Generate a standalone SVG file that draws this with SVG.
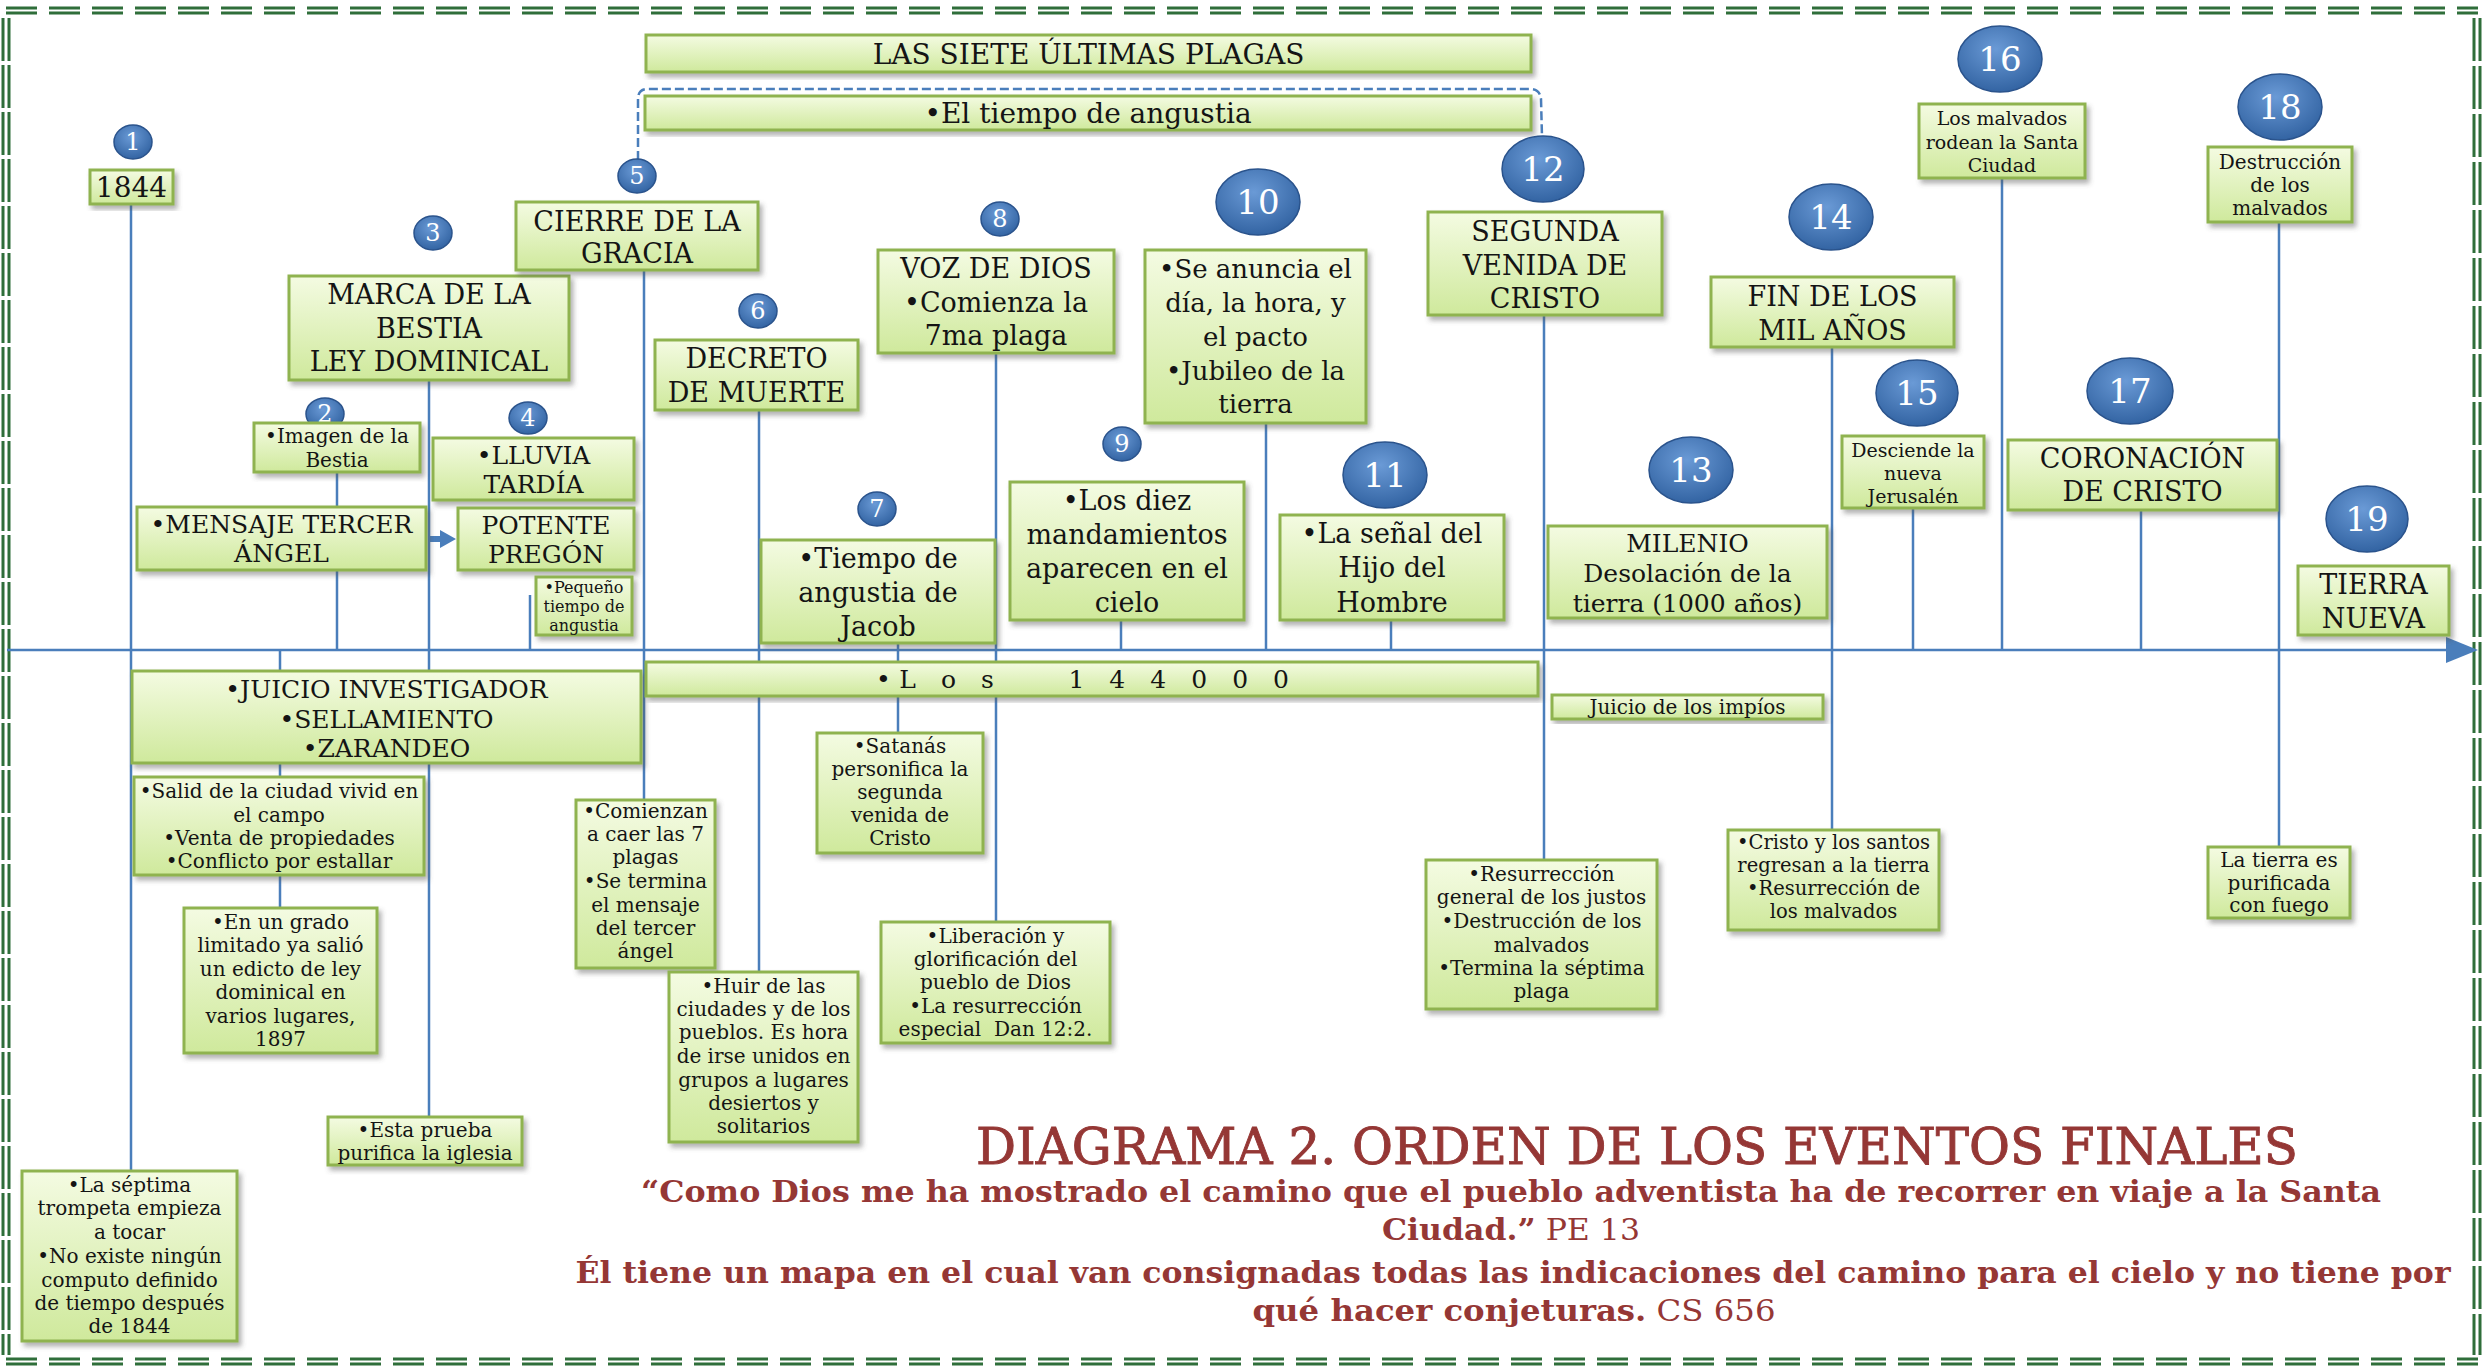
<svg xmlns="http://www.w3.org/2000/svg" width="2483" height="1369" viewBox="0 0 2483 1369">
<defs>
<linearGradient id="gbox" x1="0" y1="0" x2="0" y2="1">
<stop offset="0" stop-color="#f4fbe2"/>
<stop offset="1" stop-color="#cfe99c"/>
</linearGradient>
<radialGradient id="gc" cx="0.45" cy="0.35" r="0.7">
<stop offset="0" stop-color="#6a9ad6"/>
<stop offset="1" stop-color="#2f609f"/>
</radialGradient>
<filter id="sh" x="-10%" y="-10%" width="125%" height="130%">
<feDropShadow dx="3" dy="4" stdDeviation="2.5" flood-color="#555" flood-opacity="0.45"/>
</filter>
<marker id="arr" markerWidth="12" markerHeight="10" refX="1" refY="5" orient="auto" markerUnits="userSpaceOnUse" viewBox="0 0 12 10">
<path d="M0,0 L12,5 L0,10 Z" fill="#4a7ebb"/>
</marker>
<style>
.box{fill:url(#gbox);stroke:#8fb350;stroke-width:3;filter:url(#sh);}
.t{font-family:"DejaVu Serif","Liberation Serif",serif;fill:#141414;text-anchor:middle;}
.L{font-size:27px;}
.M{font-size:25px;}
.S{font-size:20px;}
.XS{font-size:16px;}
.c{fill:url(#gc);stroke:#2a538c;stroke-width:1.5;}
.cs{font-family:"DejaVu Serif","Liberation Serif",serif;fill:#fff;text-anchor:middle;font-size:24px;}
.cl{font-family:"DejaVu Serif","Liberation Serif",serif;fill:#fff;text-anchor:middle;font-size:34px;}
.ln{stroke:#4a7ebb;stroke-width:2.5;fill:none;}
.bd{stroke:#2f6e3a;stroke-width:3;fill:none;}
.red{font-family:"DejaVu Serif","Liberation Serif",serif;fill:#953735;}
</style>
</defs>
<rect x="0" y="0" width="2483" height="1369" fill="#ffffff"/>
<g id="border">
<line class="bd" x1="6" y1="8" x2="2478" y2="8" stroke-dasharray="31 12"/>
<line class="bd" x1="6" y1="13" x2="2478" y2="13" stroke-dasharray="31 12" stroke="#4d8a55"/>
<line class="bd" x1="6" y1="1359" x2="2478" y2="1359" stroke-dasharray="31 12"/>
<line class="bd" x1="6" y1="1364" x2="2478" y2="1364" stroke-dasharray="31 12" stroke="#4d8a55"/>
<line class="bd" x1="3" y1="18" x2="3" y2="1355" stroke-dasharray="43 4"/>
<line class="bd" x1="9" y1="18" x2="9" y2="1355" stroke-dasharray="43 4" stroke="#4d8a55"/>
<line class="bd" x1="2474" y1="18" x2="2474" y2="1355" stroke-dasharray="43 5" stroke="#4d8a55"/>
<line class="bd" x1="2480" y1="18" x2="2480" y2="1355" stroke-dasharray="43 5"/>
</g>
<g id="connectors">
<line class="ln" x1="7" y1="650" x2="2450" y2="650" stroke-width="3" marker-end="url(#arr)"/>
<path d="M2446,637 L2478,650 L2446,663 Z" fill="#4a7ebb"/>
<line class="ln" x1="131" y1="204" x2="131" y2="1171"/>
<line class="ln" x1="280" y1="650" x2="280" y2="908"/>
<line class="ln" x1="337" y1="472" x2="337" y2="650"/>
<line class="ln" x1="429" y1="380" x2="429" y2="1117"/>
<line class="ln" x1="530" y1="595" x2="530" y2="650"/>
<line class="ln" x1="644" y1="270" x2="644" y2="800"/>
<line class="ln" x1="759" y1="410" x2="759" y2="972"/>
<line class="ln" x1="898" y1="643" x2="898" y2="733"/>
<line class="ln" x1="996" y1="353" x2="996" y2="922"/>
<line class="ln" x1="1121" y1="620" x2="1121" y2="650"/>
<line class="ln" x1="1266" y1="423" x2="1266" y2="650"/>
<line class="ln" x1="1391" y1="620" x2="1391" y2="650"/>
<line class="ln" x1="1544" y1="315" x2="1544" y2="860"/>
<line class="ln" x1="1832" y1="347" x2="1832" y2="830"/>
<line class="ln" x1="1913" y1="508" x2="1913" y2="650"/>
<line class="ln" x1="2002" y1="178" x2="2002" y2="650"/>
<line class="ln" x1="2141" y1="510" x2="2141" y2="650"/>
<line class="ln" x1="2279" y1="222" x2="2279" y2="847"/>
<path class="ln" d="M638,160 L638,99 Q638,89 648,89 L1530,89 Q1540,89 1541,99 L1542,137" stroke="#3f6aa8" stroke-dasharray="9 4"/>
<path d="M428,536 L440,536 L440,530 L456,539 L440,548 L440,542 L428,542 Z" fill="#4a7ebb"/>
</g>
<g id="n1">
<ellipse class="c" cx="133" cy="142" rx="19" ry="17"/>
<text class="cs" x="133" y="150">1</text>
<rect class="box" x="90" y="170" width="83" height="34"/>
<text class="t" font-size="28" x="131.5" y="197">1844</text>
</g>
<g id="n2">
<ellipse class="c" cx="325" cy="414" rx="19" ry="16"/>
<text class="cs" x="325" y="422">2</text>
<rect class="box" x="254" y="423" width="166" height="49"/>
<text class="t S"><tspan x="337" y="443">•Imagen de la</tspan><tspan x="337" y="467">Bestia</tspan></text>
</g>
<g id="n3">
<ellipse class="c" cx="433" cy="233" rx="19" ry="17"/>
<text class="cs" x="433" y="241">3</text>
<rect class="box" x="289" y="276" width="280" height="104"/>
<text class="t L"><tspan x="429" y="304">MARCA DE LA</tspan><tspan x="429" y="338">BESTIA</tspan><tspan x="429" y="371">LEY DOMINICAL</tspan></text>
</g>
<g id="n4">
<ellipse class="c" cx="528" cy="418" rx="19" ry="16"/>
<text class="cs" x="528" y="426">4</text>
<rect class="box" x="433" y="438" width="201" height="62"/>
<text class="t M"><tspan x="533.5" y="464">•LLUVIA</tspan><tspan x="533.5" y="493">TARDÍA</tspan></text>
</g>
<g id="mensaje">
<rect class="box" x="137" y="507" width="289" height="63"/>
<text class="t M"><tspan x="281.5" y="533">•MENSAJE TERCER</tspan><tspan x="281.5" y="562">ÁNGEL</tspan></text>
</g>
<g id="potente">
<rect class="box" x="458" y="508" width="176" height="62"/>
<text class="t M"><tspan x="546" y="534">POTENTE</tspan><tspan x="546" y="563">PREGÓN</tspan></text>
</g>
<g id="pequeno">
<rect class="box" x="536" y="577" width="96" height="58"/>
<text class="t XS"><tspan x="584" y="593">•Pequeño</tspan><tspan x="584" y="612">tiempo de</tspan><tspan x="584" y="631">angustia</tspan></text>
</g>
<g id="n5">
<ellipse class="c" cx="637" cy="176" rx="19" ry="17"/>
<text class="cs" x="637" y="184">5</text>
<rect class="box" x="516" y="202" width="242" height="68"/>
<text class="t L"><tspan x="637" y="231">CIERRE DE LA</tspan><tspan x="637" y="263">GRACIA</tspan></text>
</g>
<g id="plagas">
<rect class="box" x="646" y="35" width="885" height="37"/>
<text class="t" font-size="28" x="1088.5" y="64">LAS SIETE ÚLTIMAS PLAGAS</text>
</g>
<g id="tiempo-angustia">
<rect class="box" x="645" y="96" width="886" height="34"/>
<text class="t" font-size="28" x="1088" y="123">•El tiempo de angustia</text>
</g>
<g id="n6">
<ellipse class="c" cx="758" cy="311" rx="19" ry="17"/>
<text class="cs" x="758" y="319">6</text>
<rect class="box" x="655" y="340" width="203" height="70"/>
<text class="t L"><tspan x="756.5" y="368">DECRETO</tspan><tspan x="756.5" y="402">DE MUERTE</tspan></text>
</g>
<g id="n7">
<ellipse class="c" cx="877" cy="509" rx="19" ry="17"/>
<text class="cs" x="877" y="517">7</text>
<rect class="box" x="761" y="540" width="234" height="103"/>
<text class="t L"><tspan x="878" y="568">•Tiempo de</tspan><tspan x="878" y="602">angustia de</tspan><tspan x="878" y="636">Jacob</tspan></text>
</g>
<g id="n8">
<ellipse class="c" cx="1000" cy="219" rx="19" ry="17"/>
<text class="cs" x="1000" y="227">8</text>
<rect class="box" x="878" y="250" width="236" height="103"/>
<text class="t L"><tspan x="996" y="278">VOZ DE DIOS</tspan><tspan x="996" y="312">•Comienza la</tspan><tspan x="996" y="345">7ma plaga</tspan></text>
</g>
<g id="n9">
<ellipse class="c" cx="1122" cy="444" rx="19" ry="17"/>
<text class="cs" x="1122" y="452">9</text>
<rect class="box" x="1010" y="482" width="234" height="138"/>
<text class="t L"><tspan x="1127" y="510">•Los diez</tspan><tspan x="1127" y="544">mandamientos</tspan><tspan x="1127" y="578">aparecen en el</tspan><tspan x="1127" y="612">cielo</tspan></text>
</g>
<g id="n10">
<ellipse class="c" cx="1258" cy="202" rx="42" ry="33"/>
<text class="cl" x="1258" y="214">10</text>
<rect class="box" x="1145" y="250" width="221" height="173"/>
<text class="t" font-size="26"><tspan x="1255.5" y="278">•Se anuncia el</tspan><tspan x="1255.5" y="312">día, la hora, y</tspan><tspan x="1255.5" y="346">el pacto</tspan><tspan x="1255.5" y="380">•Jubileo de la</tspan><tspan x="1255.5" y="413">tierra</tspan></text>
</g>
<g id="n11">
<ellipse class="c" cx="1385" cy="475" rx="42" ry="33"/>
<text class="cl" x="1385" y="487">11</text>
<rect class="box" x="1280" y="515" width="224" height="105"/>
<text class="t L"><tspan x="1392" y="543">•La señal del</tspan><tspan x="1392" y="577">Hijo del</tspan><tspan x="1392" y="612">Hombre</tspan></text>
</g>
<g id="n12">
<ellipse class="c" cx="1543" cy="169" rx="41" ry="33"/>
<text class="cl" x="1543" y="181">12</text>
<rect class="box" x="1428" y="212" width="234" height="103"/>
<text class="t L"><tspan x="1545" y="241">SEGUNDA</tspan><tspan x="1545" y="275">VENIDA DE</tspan><tspan x="1545" y="308">CRISTO</tspan></text>
</g>
<g id="n13">
<ellipse class="c" cx="1691" cy="470" rx="42" ry="33"/>
<text class="cl" x="1691" y="482">13</text>
<rect class="box" x="1548" y="526" width="279" height="92"/>
<text class="t M"><tspan x="1687.5" y="552">MILENIO</tspan><tspan x="1687.5" y="582">Desolación de la</tspan><tspan x="1687.5" y="612">tierra (1000 años)</tspan></text>
</g>
<g id="n14">
<ellipse class="c" cx="1831" cy="217" rx="42" ry="33"/>
<text class="cl" x="1831" y="229">14</text>
<rect class="box" x="1711" y="277" width="243" height="70"/>
<text class="t L"><tspan x="1832.5" y="306">FIN DE LOS</tspan><tspan x="1832.5" y="340">MIL AÑOS</tspan></text>
</g>
<g id="n15">
<ellipse class="c" cx="1917" cy="393" rx="41" ry="33"/>
<text class="cl" x="1917" y="405">15</text>
<rect class="box" x="1842" y="436" width="142" height="72"/>
<text class="t" font-size="19"><tspan x="1913" y="457">Desciende la</tspan><tspan x="1913" y="480">nueva</tspan><tspan x="1913" y="503">Jerusalén</tspan></text>
</g>
<g id="n16">
<ellipse class="c" cx="2000" cy="59" rx="42" ry="33"/>
<text class="cl" x="2000" y="71">16</text>
<rect class="box" x="1919" y="104" width="166" height="74"/>
<text class="t" font-size="19"><tspan x="2002" y="125">Los malvados</tspan><tspan x="2002" y="149">rodean la Santa</tspan><tspan x="2002" y="172">Ciudad</tspan></text>
</g>
<g id="n17">
<ellipse class="c" cx="2130" cy="391" rx="43" ry="33"/>
<text class="cl" x="2130" y="403">17</text>
<rect class="box" x="2008" y="440" width="269" height="70"/>
<text class="t L"><tspan x="2142.5" y="468">CORONACIÓN</tspan><tspan x="2142.5" y="501">DE CRISTO</tspan></text>
</g>
<g id="n18">
<ellipse class="c" cx="2280" cy="107" rx="42" ry="33"/>
<text class="cl" x="2280" y="119">18</text>
<rect class="box" x="2208" y="147" width="144" height="75"/>
<text class="t S"><tspan x="2280" y="169">Destrucción</tspan><tspan x="2280" y="192">de los</tspan><tspan x="2280" y="215">malvados</tspan></text>
</g>
<g id="n19">
<ellipse class="c" cx="2367" cy="519" rx="41" ry="33"/>
<text class="cl" x="2367" y="531">19</text>
<rect class="box" x="2298" y="566" width="151" height="69"/>
<text class="t L"><tspan x="2373.5" y="594">TIERRA</tspan><tspan x="2373.5" y="628">NUEVA</tspan></text>
</g>
<g id="juicio">
<rect class="box" x="132" y="671" width="509" height="92"/>
<text class="t M"><tspan x="386.5" y="698">•JUICIO INVESTIGADOR</tspan><tspan x="386.5" y="728">•SELLAMIENTO</tspan><tspan x="386.5" y="757">•ZARANDEO</tspan></text>
</g>
<g id="los144000">
<rect class="box" x="646" y="662" width="892" height="34"/>
<text class="t M" x="876" y="688" style="text-anchor:start" xml:space="preserve" textLength="413" lengthAdjust="spacing">•L o s    1 4 4 0 0 0</text>
</g>
<g id="salid">
<rect class="box" x="134" y="777" width="290" height="98"/>
<text class="t S"><tspan x="279" y="798">•Salid de la ciudad vivid en</tspan><tspan x="279" y="822">el campo</tspan><tspan x="279" y="845">•Venta de propiedades</tspan><tspan x="279" y="868">•Conflicto por estallar</tspan></text>
</g>
<g id="grado">
<rect class="box" x="184" y="908" width="193" height="145"/>
<text class="t S"><tspan x="280.5" y="929">•En un grado</tspan><tspan x="280.5" y="952">limitado ya salió</tspan><tspan x="280.5" y="976">un edicto de ley</tspan><tspan x="280.5" y="999">dominical en</tspan><tspan x="280.5" y="1023">varios lugares,</tspan><tspan x="280.5" y="1046">1897</tspan></text>
</g>
<g id="septima">
<rect class="box" x="22" y="1171" width="215" height="170"/>
<text class="t S"><tspan x="129.5" y="1192">•La séptima</tspan><tspan x="129.5" y="1215">trompeta  empieza</tspan><tspan x="129.5" y="1239">a tocar</tspan><tspan x="129.5" y="1263">•No existe ningún</tspan><tspan x="129.5" y="1287">computo definido</tspan><tspan x="129.5" y="1310">de tiempo después</tspan><tspan x="129.5" y="1333">de 1844</tspan></text>
</g>
<g id="prueba">
<rect class="box" x="328" y="1117" width="194" height="48"/>
<text class="t S"><tspan x="425" y="1137">•Esta prueba</tspan><tspan x="425" y="1160">purifica la iglesia</tspan></text>
</g>
<g id="comienzan">
<rect class="box" x="576" y="800" width="139" height="168"/>
<text class="t S"><tspan x="645.5" y="818">•Comienzan</tspan><tspan x="645.5" y="841">a caer las 7</tspan><tspan x="645.5" y="864">plagas</tspan><tspan x="645.5" y="888">•Se termina</tspan><tspan x="645.5" y="912">el mensaje</tspan><tspan x="645.5" y="935">del tercer</tspan><tspan x="645.5" y="958">ángel</tspan></text>
</g>
<g id="satanas">
<rect class="box" x="817" y="733" width="166" height="120"/>
<text class="t S"><tspan x="900" y="753">•Satanás</tspan><tspan x="900" y="776">personifica la</tspan><tspan x="900" y="799">segunda</tspan><tspan x="900" y="822">venida de</tspan><tspan x="900" y="845">Cristo</tspan></text>
</g>
<g id="huir">
<rect class="box" x="669" y="972" width="189" height="170"/>
<text class="t S"><tspan x="763.5" y="993">•Huir de las</tspan><tspan x="763.5" y="1016">ciudades y de los</tspan><tspan x="763.5" y="1039">pueblos. Es hora</tspan><tspan x="763.5" y="1063">de irse unidos en</tspan><tspan x="763.5" y="1087">grupos a lugares</tspan><tspan x="763.5" y="1110">desiertos y</tspan><tspan x="763.5" y="1133">solitarios</tspan></text>
</g>
<g id="liberacion">
<rect class="box" x="881" y="922" width="229" height="121"/>
<text class="t S"><tspan x="995.5" y="943">•Liberación y</tspan><tspan x="995.5" y="966">glorificación del</tspan><tspan x="995.5" y="989">pueblo de Dios</tspan><tspan x="995.5" y="1013">•La resurrección</tspan><tspan x="995.5" y="1036" xml:space="preserve">especial  Dan 12:2.</tspan></text>
</g>
<g id="impios">
<rect class="box" x="1552" y="695" width="271" height="24"/>
<text class="t S" x="1687.5" y="714">Juicio de los impíos</text>
</g>
<g id="resurreccion">
<rect class="box" x="1426" y="860" width="231" height="149"/>
<text class="t S"><tspan x="1541.5" y="881">•Resurrección</tspan><tspan x="1541.5" y="904">general de los justos</tspan><tspan x="1541.5" y="928">•Destrucción de los</tspan><tspan x="1541.5" y="952">malvados</tspan><tspan x="1541.5" y="975">•Termina la séptima</tspan><tspan x="1541.5" y="998">plaga</tspan></text>
</g>
<g id="regresan">
<rect class="box" x="1728" y="830" width="211" height="100"/>
<text class="t" font-size="19.5"><tspan x="1833.5" y="849">•Cristo y los santos</tspan><tspan x="1833.5" y="872">regresan a la tierra</tspan><tspan x="1833.5" y="895">•Resurrección de</tspan><tspan x="1833.5" y="918">los malvados</tspan></text>
</g>
<g id="purificada">
<rect class="box" x="2208" y="847" width="142" height="71"/>
<text class="t S"><tspan x="2279" y="867">La tierra es</tspan><tspan x="2279" y="890">purificada</tspan><tspan x="2279" y="912">con fuego</tspan></text>
</g>
<g id="titulo">
<text class="red" x="976" y="1164" font-size="50" stroke="#953735" stroke-width="0.9" textLength="1322" lengthAdjust="spacingAndGlyphs">DIAGRAMA 2. ORDEN DE LOS EVENTOS FINALES</text>
<text class="red" x="1511" y="1202" font-size="29" font-weight="bold" text-anchor="middle" textLength="1740" lengthAdjust="spacingAndGlyphs">“Como Dios me ha mostrado el camino que el pueblo adventista ha de recorrer en viaje a la Santa</text>
<text class="red" x="1511" y="1240" font-size="29" text-anchor="middle" textLength="258" lengthAdjust="spacingAndGlyphs"><tspan font-weight="bold">Ciudad.”</tspan> PE 13</text>
<text class="red" x="1513" y="1283" font-size="29" font-weight="bold" text-anchor="middle" textLength="1875" lengthAdjust="spacingAndGlyphs">Él tiene un mapa en el cual van consignadas todas las indicaciones del camino para el cielo y no tiene por</text>
<text class="red" x="1514" y="1321" font-size="29" text-anchor="middle" textLength="523" lengthAdjust="spacingAndGlyphs"><tspan font-weight="bold">qué hacer conjeturas.</tspan> CS 656</text>
</g>
</svg>
